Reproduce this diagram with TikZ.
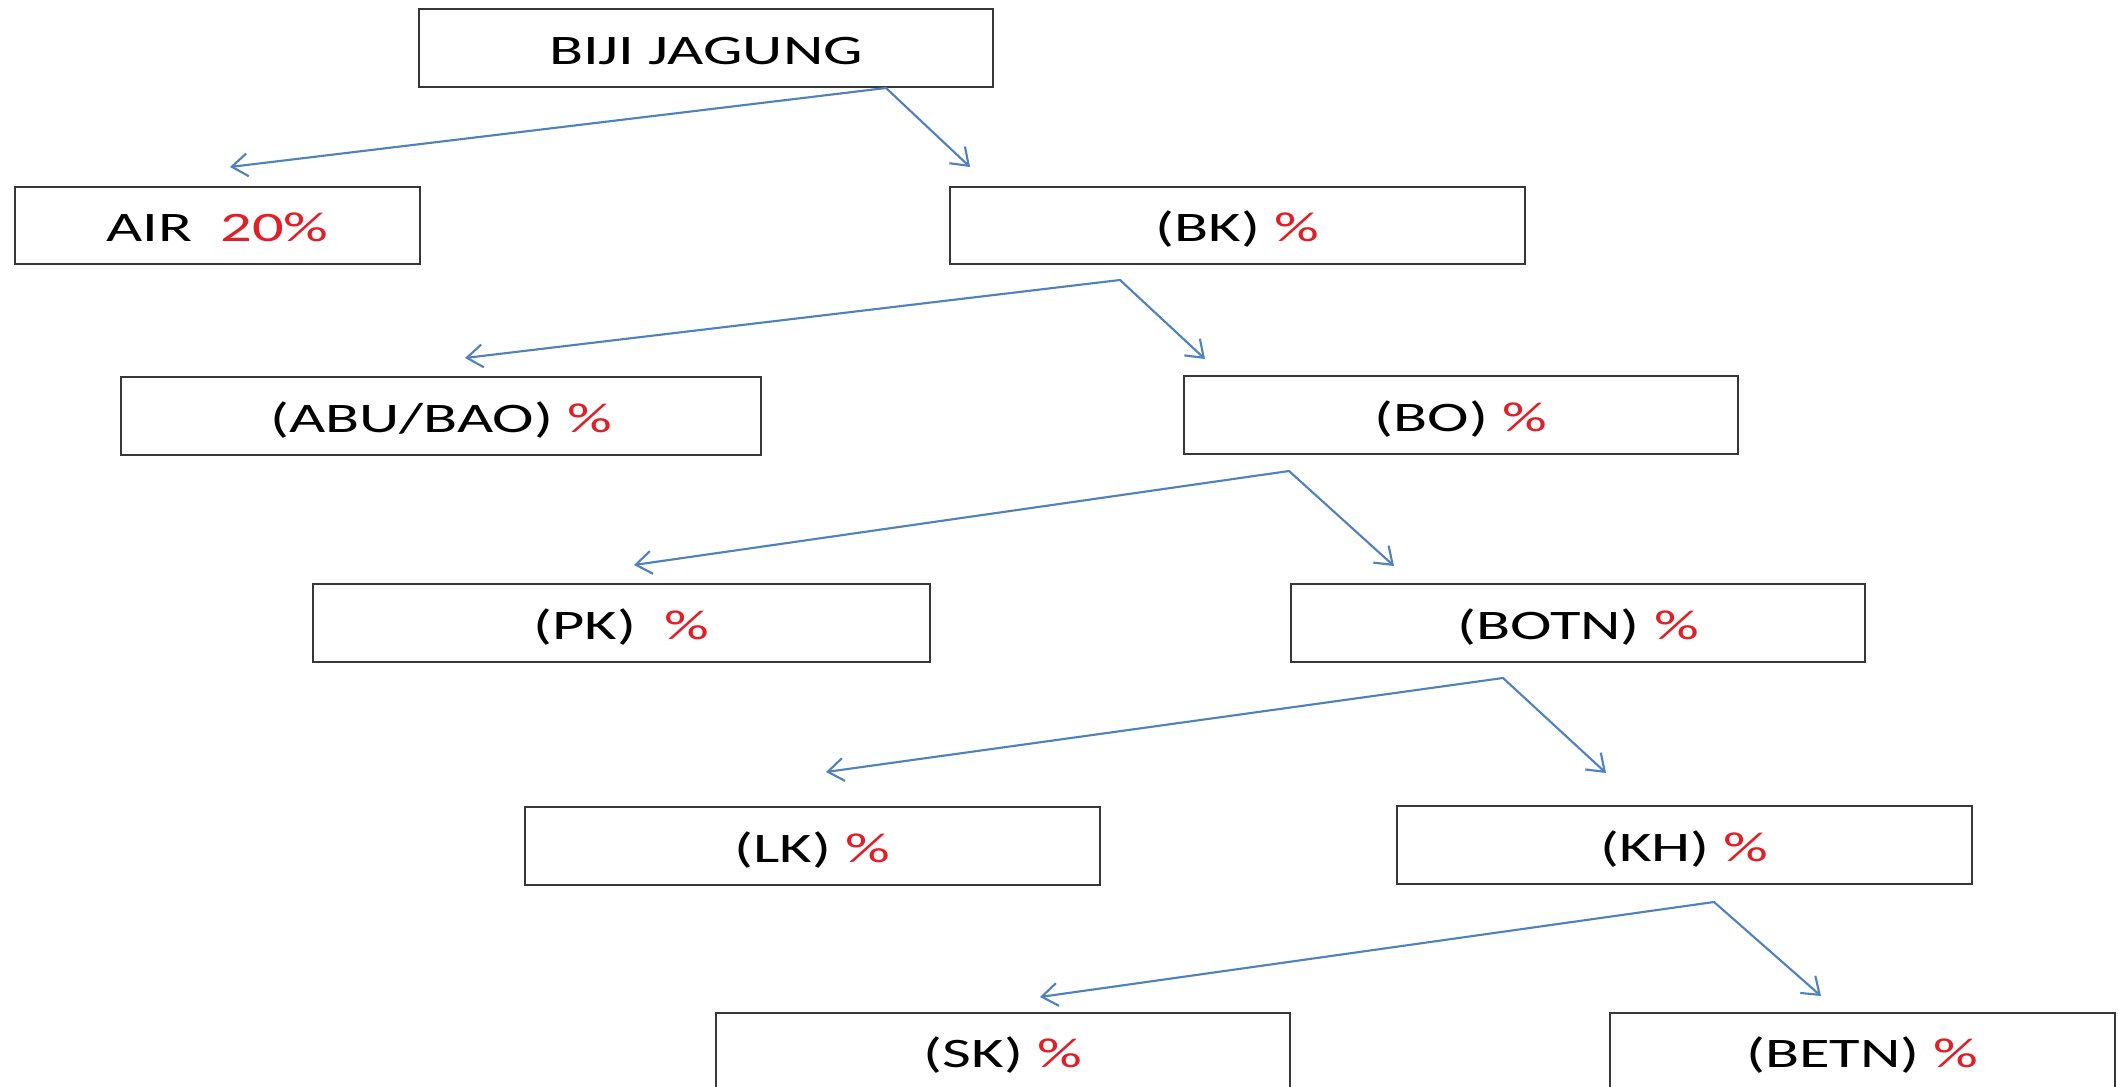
\documentclass[tikz,border=0pt]{standalone}
\usepackage{fontspec}
\setmainfont{Carlito}[FakeStretch=1.49]
\usetikzlibrary{arrows.meta}
\definecolor{pctred}{RGB}{226,30,38}
\definecolor{arrowblue}{RGB}{79,129,189}
\definecolor{boxline}{RGB}{55,55,55}
\newcommand{\pctred}[1]{{\color{pctred}#1}}
\begin{document}
\begin{tikzpicture}[x=0.02cm,y=-0.02cm,
  nbox/.style={draw=boxline, line width=1.1pt, fill=white, rectangle, inner sep=0pt,
    minimum height=1.55cm, font=\fontsize{23.9}{28}\selectfont, text height=18.4pt, text depth=0pt},
  conn/.style={draw=arrowblue, line width=1.2pt, line join=miter,
    {Straight Barb[length=9pt,width=13pt,line width=1.2pt]}-{Straight Barb[length=9pt,width=13pt,line width=1.2pt]}}]
\useasboundingbox (0,0) rectangle (2118,1087);
\clip (0,0) rectangle (2118,1087);
\fill[white] (0,0) rectangle (2118,1087);

\node[nbox, minimum width=11.48cm] (biji) at (706,48) {BIJI JAGUNG};
\node[nbox, minimum width=8.1cm]  (air)  at (217.5,225.5) {AIR\ \ \pctred{20\%}};
\node[nbox, minimum width=11.5cm] (bk)   at (1237.5,225.5) {(BK) \pctred{\%}};
\node[nbox, minimum width=12.8cm] (abu)  at (441,416) {(ABU/BAO) \pctred{\%}};
\node[nbox, minimum width=11.08cm] (bo)  at (1461,415) {(BO) \pctred{\%}};
\node[nbox, minimum width=12.34cm] (pk)  at (621.5,623) {(PK)\ \ \pctred{\%}};
\node[nbox, minimum width=11.48cm] (botn) at (1578,623) {(BOTN) \pctred{\%}};
\node[nbox, minimum width=11.5cm] (lk)   at (812.5,846) {(LK) \pctred{\%}};
\node[nbox, minimum width=11.5cm] (kh)   at (1684.5,845) {(KH) \pctred{\%}};
\node[nbox, minimum width=11.48cm] (sk)  at (1003,1051.5) {(SK) \pctred{\%}};
\node[nbox, minimum width=10.1cm] (betn) at (1862.5,1051.5) {(BETN) \pctred{\%}};

\coordinate (o1) at (886,88);   \coordinate (l1) at (230,167);  \coordinate (r1) at (970,167);
\coordinate (o2) at (1120,280); \coordinate (l2) at (465,358);  \coordinate (r2) at (1205,359);
\coordinate (o3) at (1289,471); \coordinate (l3) at (634,565);  \coordinate (r3) at (1394,566);
\coordinate (o4) at (1503,678); \coordinate (l4) at (826,772);  \coordinate (r4) at (1606,773);
\coordinate (o5) at (1714,902); \coordinate (l5) at (1040,997); \coordinate (r5) at (1821,996);

\draw[conn] (l1) -- (o1) -- (r1);
\draw[conn] (l2) -- (o2) -- (r2);
\draw[conn] (l3) -- (o3) -- (r3);
\draw[conn] (l4) -- (o4) -- (r4);
\draw[conn] (l5) -- (o5) -- (r5);
\end{tikzpicture}
\end{document}
